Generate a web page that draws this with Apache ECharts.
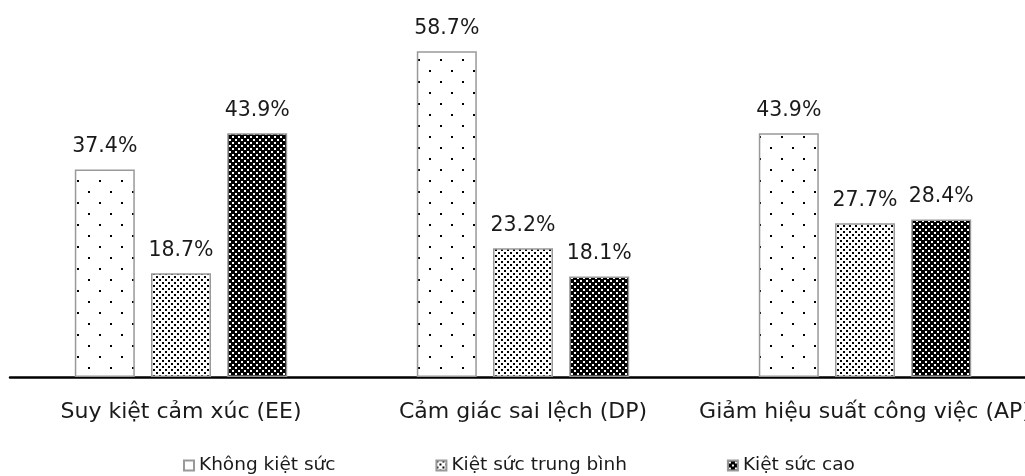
<!DOCTYPE html>
<html><head><meta charset="utf-8">
<script src="https://cdn.jsdelivr.net/npm/echarts@6/dist/echarts.min.js"></script>
<style>html,body{margin:0;padding:0;background:#fff}#c{width:1025px;height:476px}</style>
</head><body><div id="c"></div>
<script>
const categories = ['Suy kiệt cảm xúc (EE)', 'Cảm giác sai lệch (DP)', 'Giảm hiệu suất công việc (AP)'];
const seriesNames = ['Không kiệt sức', 'Kiệt sức trung bình', 'Kiệt sức cao'];
const khongKietSuc = [37.4, 58.7, 43.9];
const kietSucTrungBinh = [18.7, 23.2, 27.7];
const kietSucCao = [43.9, 18.1, 28.4];

const FONT = 'DejaVu Sans';

function pattern(w, h, bg, fg, dots, s) {
  const c = document.createElement('canvas');
  c.width = w; c.height = h;
  const ctx = c.getContext('2d');
  ctx.fillStyle = bg; ctx.fillRect(0, 0, w, h);
  ctx.fillStyle = fg;
  dots.forEach(d => ctx.fillRect(d[0], d[1], s, s));
  return {image: c, repeat: 'repeat'};
}
const pSparse = pattern(22, 22, '#ffffff', '#000000', [[11, 4], [0, 15]], 2);
const pMedium = pattern(6, 6, '#ffffff', '#000000', [[0, 0], [3, 3]], 2);
const pDense = pattern(6, 6, '#000000', '#ffffff', [[1, 1], [4, 4]], 2);
const fills = [pSparse, pMedium, pDense];
const datasets = [khongKietSuc, kietSucTrungBinh, kietSucCao];

const chart = echarts.init(document.getElementById('c'));
chart.setOption({
  animation: false,
  backgroundColor: '#ffffff',
  grid: {left: 10, width: 1026, top: 44, bottom: 99, containLabel: false, outerBoundsMode: 'none'},
  legend: {
    data: seriesNames, top: 456, left: 183, padding: 0, itemWidth: 10, itemHeight: 10, itemGap: 100,
    icon: 'rect',
    textStyle: {fontFamily: FONT, fontSize: 18.5, color: '#1a1a1a'}
  },
  xAxis: {
    type: 'category', data: categories,
    axisLine: {lineStyle: {color: '#000', width: 2.5}},
    axisTick: {show: false},
    axisLabel: {fontFamily: FONT, fontSize: 22, color: '#1a1a1a', margin: 24, interval: 0}
  },
  yAxis: {type: 'value', min: 0, max: 60, show: false, splitLine: {show: false}},
  series: datasets.map((d, i) => ({
    name: seriesNames[i], type: 'bar', data: d, barWidth: 60, barGap: '27%',
    itemStyle: {color: fills[i], borderColor: '#999', borderWidth: 1.5},
    label: {show: true, position: 'top', distance: 12, formatter: p => p.value.toFixed(1) + '%',
            fontFamily: FONT, fontSize: 20.5, color: '#1a1a1a'}
  }))
});
</script></body></html>
